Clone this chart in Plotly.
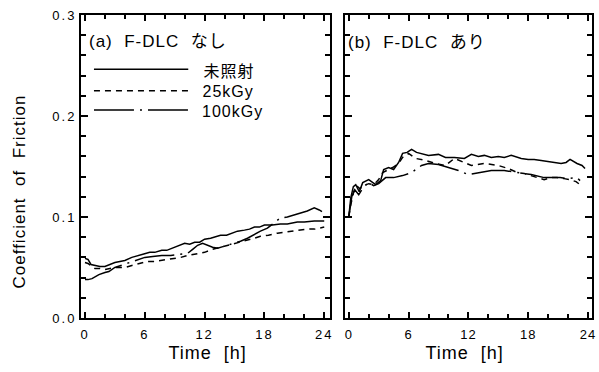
import plotly.graph_objects as go

# ---------------- data ----------------
# Panel (a) F-DLC なし
a_t_solid = [0, 0.3, 0.6, 1.0, 1.5, 2.0, 2.5, 3.0, 3.5, 4.0, 4.7, 5.5, 6.0, 6.5, 7.0, 7.7, 8.2, 8.7, 9.3, 10.0,
             10.5, 11.0, 11.5, 12.0, 12.6, 13.0, 13.6, 14.2, 14.8, 15.3, 16.0, 16.5, 17.0, 17.5, 18.0, 18.8,
             19.6, 20.3, 21.3, 22.0, 23.0, 24.0]
a_v_solid = [0.059, 0.058, 0.053, 0.052, 0.051, 0.051, 0.053, 0.055, 0.056, 0.057, 0.060, 0.062, 0.064, 0.065,
             0.065, 0.067, 0.067, 0.069, 0.071, 0.074, 0.073, 0.075, 0.075, 0.078, 0.079, 0.080, 0.082, 0.082,
             0.084, 0.086, 0.087, 0.088, 0.090, 0.090, 0.092, 0.092, 0.093, 0.093, 0.095, 0.095, 0.096, 0.096]

a_t_25 = [0, 0.3, 0.7, 1.0, 1.5, 2.0, 2.5, 3.0, 3.5, 4.0, 4.7, 5.5, 6.3, 7.0, 7.7, 8.4, 9.0, 9.6, 10.3, 11.0,
          11.5, 12.0, 12.8, 13.6, 14.3, 15.0, 15.6, 16.3, 17.0, 17.6, 18.4, 19.3, 20.0, 20.6, 21.5, 22.3, 23.0, 24.0]
a_v_25 = [0.055, 0.054, 0.051, 0.049, 0.049, 0.048, 0.049, 0.050, 0.050, 0.050, 0.052, 0.054, 0.056, 0.056,
          0.057, 0.058, 0.059, 0.060, 0.062, 0.063, 0.064, 0.065, 0.068, 0.070, 0.072, 0.074, 0.075, 0.077,
          0.079, 0.081, 0.082, 0.084, 0.085, 0.086, 0.087, 0.088, 0.088, 0.090]

a_t_100 = [0, 0.3, 0.7, 1.0, 1.4, 2.0, 2.4, 3.0, 3.6, 4.3, 5.0, 6.0, 6.8, 7.7, 8.6, 9.7, 10.3, 10.8, 11.3, 11.8,
           12.3, 12.8, 13.3, 14.3, 15.0, 15.6, 16.3, 17.0, 17.6, 18.3, 18.9, 19.6, 20.3, 21.0, 21.7, 22.3, 23.0,
           23.5, 24.0]
a_v_100 = [0.038, 0.038, 0.039, 0.041, 0.043, 0.045, 0.046, 0.050, 0.052, 0.055, 0.057, 0.060, 0.061, 0.062,
           0.062, 0.063, 0.064, 0.068, 0.072, 0.074, 0.072, 0.070, 0.069, 0.072, 0.074, 0.076, 0.079, 0.083,
           0.086, 0.089, 0.094, 0.099, 0.100, 0.102, 0.104, 0.106, 0.109, 0.107, 0.104]

# Panel (b) F-DLC あり
b_t_solid = [0, 0.2, 0.46, 0.7, 1.05, 1.4, 2.0, 2.7, 3.2, 3.5, 4.0, 4.5, 5.0, 5.4, 5.85, 6.3, 6.8, 7.3, 8.0,
             9.0, 9.7, 10.6, 11.6, 12.3, 13.0, 13.6, 14.3, 15.0, 15.6, 16.3, 17.3, 18.0, 18.6, 19.3, 20.0,
             20.7, 21.3, 21.8, 22.2, 22.9, 23.4, 23.7]
b_v_solid = [0.100, 0.119, 0.130, 0.132, 0.125, 0.134, 0.137, 0.132, 0.136, 0.147, 0.149, 0.147, 0.154, 0.163,
             0.164, 0.167, 0.164, 0.163, 0.161, 0.162, 0.159, 0.159, 0.158, 0.162, 0.160, 0.161, 0.159, 0.160,
             0.159, 0.161, 0.158, 0.157, 0.157, 0.156, 0.155, 0.154, 0.153, 0.154, 0.157, 0.153, 0.151, 0.148]

b_t_25 = [0, 0.2, 0.5, 0.8, 1.1, 1.5, 2.0, 2.5, 3.0, 3.4, 4.4, 5.0, 5.4, 6.0, 6.7, 7.7, 8.7, 9.7, 10.6, 11.6,
          12.3, 13.6, 15.0, 16.0, 16.9, 17.6, 18.3, 19.0, 19.6, 20.3, 20.9, 21.6, 22.2, 22.8, 23.2]
b_v_25 = [0.100, 0.112, 0.125, 0.131, 0.128, 0.131, 0.133, 0.132, 0.137, 0.144, 0.149, 0.153, 0.159, 0.163,
          0.158, 0.156, 0.153, 0.151, 0.158, 0.154, 0.151, 0.153, 0.151, 0.148, 0.144, 0.143, 0.141, 0.139,
          0.137, 0.139, 0.139, 0.138, 0.137, 0.135, 0.132]

b_t_100 = [0, 0.3, 0.6, 1.0, 1.5, 2.0, 2.5, 3.0, 3.7, 4.5, 5.4, 6.3, 7.3, 8.0, 9.0, 10.0, 11.0, 12.0, 13.0,
           14.3, 15.6, 16.9, 18.3, 19.6, 20.4, 21.2, 22.0, 22.9, 23.2]
b_v_100 = [0.100, 0.120, 0.127, 0.122, 0.130, 0.134, 0.131, 0.133, 0.139, 0.139, 0.141, 0.144, 0.151, 0.153,
           0.152, 0.149, 0.146, 0.142, 0.144, 0.146, 0.146, 0.144, 0.142, 0.139, 0.139, 0.139, 0.138, 0.139,
           0.136]

series_names = ["未照射", "25kGy", "100kGy"]
x_ticks = [0, 6, 12, 18, 24]
x_minor = [2, 4, 8, 10, 14, 16, 20, 22]
y_ticks = [0.0, 0.1, 0.2, 0.3]
y_ticktext = ["0.0", "0.1", "0.2", "0.3"]
panel_labels = ["(a)\u00a0\u00a0F-DLC\u00a0\u00a0なし", "(b)\u00a0\u00a0F-DLC\u00a0\u00a0あり"]
x_title = "Time\u00a0\u00a0[h]"
y_title = "Coefficient\u00a0\u00a0of\u00a0\u00a0Friction"

# ---------------- style ----------------
FONT = "Liberation Sans, Arial, Noto Sans CJK JP, sans-serif"
BLACK = "#000000"
DASHES = ["solid", "6px,5px", "40px,6px,2px,6px"]
LW = 1.5

fig = go.Figure()
panels = [
    ("x", "y", [(a_t_solid, a_v_solid), (a_t_25, a_v_25), (a_t_100, a_v_100)]),
    ("x2", "y2", [(b_t_solid, b_v_solid), (b_t_25, b_v_25), (b_t_100, b_v_100)]),
]
for xa, ya, data in panels:
    for (t, v), name, dash in zip(data, series_names, DASHES):
        fig.add_trace(go.Scatter(x=t, y=v, mode="lines", name=name, xaxis=xa, yaxis=ya,
                                 line=dict(color=BLACK, width=LW, dash=dash), showlegend=False))

common_x = dict(tickvals=x_ticks, ticks="inside", ticklen=6, tickwidth=1.5, tickcolor=BLACK,
                showline=True, linewidth=2, linecolor=BLACK, mirror="ticks", showgrid=False,
                zeroline=False, ticklabelstandoff=3, tickfont=dict(family=FONT, size=13, color=BLACK),
                minor=dict(tickvals=x_minor, ticks="inside", ticklen=4, tickwidth=1.5, tickcolor=BLACK,
                           showgrid=False))
common_y = dict(range=[0, 0.3], tickvals=y_ticks, ticks="inside", ticklen=7, tickwidth=1.5,
                tickcolor=BLACK, showline=True, linewidth=2, linecolor=BLACK, mirror="ticks",
                showgrid=False, zeroline=False, tickfont=dict(family=FONT, size=13, color=BLACK),
                minor=dict(dtick=0.02, ticks="inside", ticklen=5, tickwidth=1.5, tickcolor=BLACK,
                           showgrid=False))

fig.update_layout(
    width=599, height=372,
    margin=dict(l=81, r=4, t=15, b=54),
    paper_bgcolor="white", plot_bgcolor="white",
    font=dict(family=FONT, color=BLACK),
    xaxis=dict(domain=[0, 0.4877], range=[-0.4, 24.6], anchor="y", **common_x),
    xaxis2=dict(domain=[0.5162, 1.0], range=[-0.4, 24.4], anchor="y2", **common_x),
    yaxis=dict(domain=[0, 1], anchor="x", tickmode="array", ticktext=y_ticktext, **common_y),
    yaxis2=dict(domain=[0, 1], anchor="x2", matches="y", showticklabels=False, **common_y),
)

ann = []
# panel labels
ann.append(dict(x=0.9, y=0.274, xref="x", yref="y", text=panel_labels[0], showarrow=False,
                xanchor="left", yanchor="middle", font=dict(family=FONT, size=17, color=BLACK)))
ann.append(dict(x=0.43, y=0.273, xref="x2", yref="y2", text=panel_labels[1], showarrow=False,
                xanchor="left", yanchor="middle", font=dict(family=FONT, size=17, color=BLACK)))
# legend
legend_y_line = [0.2462, 0.225, 0.206]
legend_y_text = [0.244, 0.2247, 0.204]
shapes = []
for name, dash, yl, yt in zip(series_names, DASHES, legend_y_line, legend_y_text):
    shapes.append(dict(type="line", xref="x", yref="y", x0=0.9, x1=10.36, y0=yl, y1=yl,
                       line=dict(color=BLACK, width=LW, dash=dash)))
    ann.append(dict(x=11.85, y=yt, xref="x", yref="y", text=name, showarrow=False,
                    xanchor="left", yanchor="middle", font=dict(family=FONT, size=16, color=BLACK)))
# axis titles
ann.append(dict(x=12.25, y=-0.115, xref="x", yref="paper", text=x_title, showarrow=False,
                xanchor="center", yanchor="middle", font=dict(family=FONT, size=18, color=BLACK)))
ann.append(dict(x=11.64, y=-0.115, xref="x2", yref="paper", text=x_title, showarrow=False,
                xanchor="center", yanchor="middle", font=dict(family=FONT, size=18, color=BLACK)))
ann.append(dict(x=0, y=0.416, xref="paper", yref="paper", xshift=-61, text=y_title, showarrow=False,
                textangle=-90, xanchor="center", yanchor="middle",
                font=dict(family=FONT, size=17, color=BLACK)))
fig.update_layout(annotations=ann, shapes=shapes)

# page styling: no body margin; slight letter tracking like the original typesetting
post_js = (
    "var s=document.createElement('style');"
    "s.textContent='body{margin:0;overflow:hidden} .main-svg text{letter-spacing:1px}"
    " .xtick text,.ytick text{letter-spacing:2px}';"
    "document.head.appendChild(s);"
)
fig.write_html("out.html", post_script=post_js, config={"displayModeBar": False})
